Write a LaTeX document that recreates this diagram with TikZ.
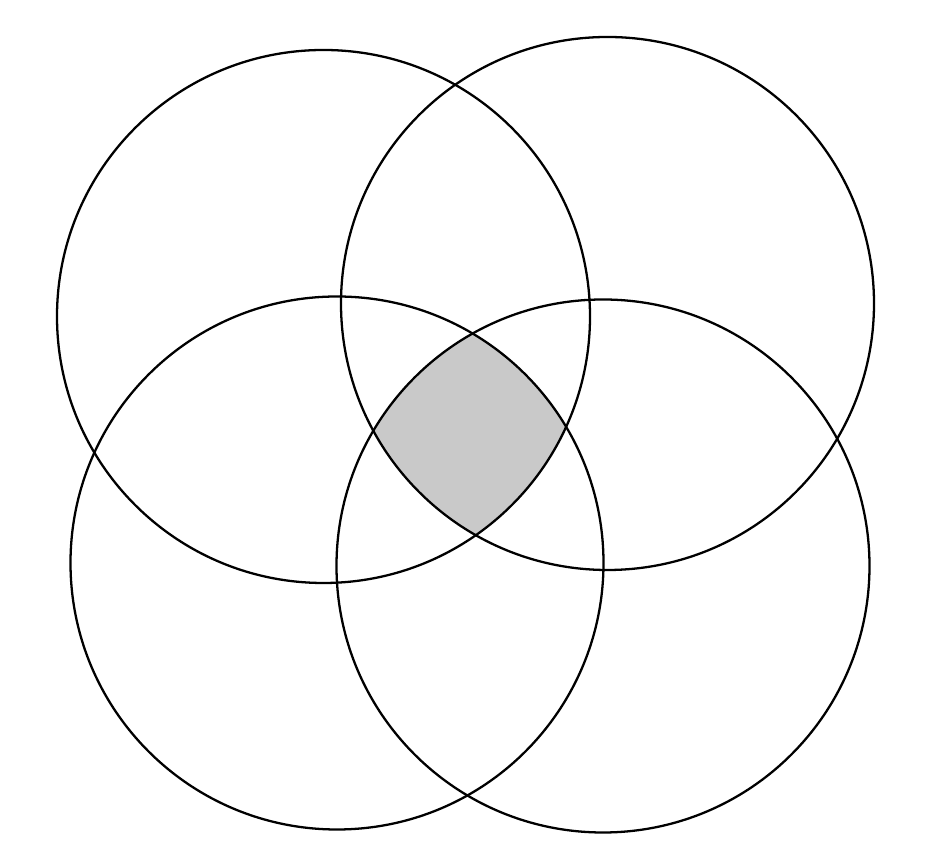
\documentclass[tikz,border=0pt]{standalone}
\usepackage{tikz}
\definecolor{coreGray}{HTML}{C9C9C9}
\tikzstyle{ring}=[draw, line width = 1.3pt]
\tikzstyle{core}=[fill = coreGray]
\newcommand{\ringRad}{266.5}

\begin{document}
\begin{tikzpicture}[x = 0.02cm, y = 0.02cm]
\useasboundingbox (0,0) rectangle (934,865);
\coordinate (upLeft) at (323.5,548.5);
\coordinate (upRight) at (607.5,561.5);
\coordinate (lowLeft) at (337,302);
\coordinate (lowRight) at (603,299);
% shaded part common to all four
\begin{scope}
\clip (upLeft) circle (\ringRad);
\clip (upRight) circle (\ringRad);
\clip (lowLeft) circle (\ringRad);
\fill[core] (lowRight) circle (\ringRad);
\end{scope}
\foreach \c in {upLeft, upRight, lowLeft, lowRight}
  \draw[ring] (\c) circle (\ringRad);
\end{tikzpicture}
\end{document}
